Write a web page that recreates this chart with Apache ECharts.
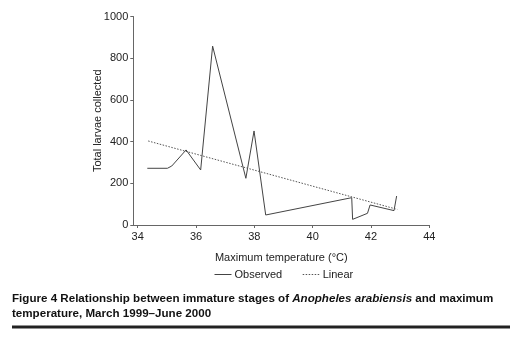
<!DOCTYPE html>
<html><head><meta charset="utf-8">
<script src="https://cdn.jsdelivr.net/npm/echarts@6/dist/echarts.min.js"></script>
<style>html,body{margin:0;padding:0;background:#fff}#c{width:520px;height:338px}</style>
</head><body><div id="c"></div>
<script>
// Data
const tempObserved = [34.33, 35.02, 35.17, 35.66, 36.16, 36.57, 37.71, 37.99, 38.39, 41.34, 41.37, 41.88, 41.97, 42.79, 42.88];
const larvaeObserved = [272, 272, 283, 360, 264, 858, 224, 451, 48, 131, 27, 56, 96, 69, 139];
const tempLinear = [34.36, 42.9];
const larvaeLinear = [403, 75];
const xTickValues = [34, 36, 38, 40, 42, 44];
const yTickValues = [0, 200, 400, 600, 800, 1000];
const seriesNames = ['Observed', 'Linear'];
const xTitle = 'Maximum temperature (°C)';
const yTitle = 'Total larvae collected';

const font = 'Liberation Sans, Arial, sans-serif';
const chart = echarts.init(document.getElementById('c'), null, {renderer: 'canvas'});
chart.setOption({
  animation: false,
  backgroundColor: '#fff',
  textStyle: {fontFamily: font},
  grid: {left: 133.3, right: 90.7, top: 16.5, bottom: 113, containLabel: false},
  legend: {
    data: seriesNames, top: 264, left: 209, itemWidth: 17, itemHeight: 8, itemGap: 20,
    itemStyle: {opacity: 0},
    lineStyle: {width: 1},
    textStyle: {fontFamily: font, fontSize: 11, color: '#222', padding: [0, 0, 0, -2]}
  },
  xAxis: {
    type: 'value', min: 33.85, max: 44,
    name: xTitle, nameLocation: 'middle', nameGap: 27, nameMoveOverlap: false,
    nameTextStyle: {fontFamily: font, fontSize: 11, color: '#222'},
    axisLine: {show: true, lineStyle: {color: '#666', width: 1}},
    axisTick: {show: true, length: 3, customValues: xTickValues, lineStyle: {color: '#666'}},
    axisLabel: {customValues: xTickValues, fontFamily: font, fontSize: 11, color: '#222', margin: 6},
    splitLine: {show: false}
  },
  yAxis: {
    type: 'value', min: 0, max: 1000, interval: 200,
    name: yTitle, nameLocation: 'middle', nameGap: 30, nameMoveOverlap: false,
    nameTextStyle: {fontFamily: font, fontSize: 11, color: '#222'},
    axisLine: {show: true, lineStyle: {color: '#666', width: 1}},
    axisTick: {show: true, length: 3, lineStyle: {color: '#666'}},
    axisLabel: {fontFamily: font, fontSize: 11, color: '#222', margin: 5,
      formatter: v => yTickValues.includes(v) ? String(v) : ''},
    splitLine: {show: false}
  },
  series: [
    {name: seriesNames[0], type: 'line', symbol: 'none', smooth: false,
     data: tempObserved.map((x, i) => [x, larvaeObserved[i]]),
     lineStyle: {color: '#444', width: 1}, itemStyle: {color: '#444'}},
    {name: seriesNames[1], type: 'line', symbol: 'none',
     data: tempLinear.map((x, i) => [x, larvaeLinear[i]]),
     lineStyle: {color: '#555', width: 1, type: [1.5, 1.5]}, itemStyle: {color: '#555'}}
  ],
  graphic: [
    {type: 'text', left: 12, top: 293, style: {
      text: '{b|Figure 4 Relationship between immature stages of }{i|Anopheles arabiensis}{b| and maximum}\n{b|temperature, March 1999–June 2000}',
      rich: {
        b: {fontFamily: font, fontSize: 11.6, fontWeight: 'bold', fill: '#111', lineHeight: 15},
        i: {fontFamily: font, fontSize: 11.6, fontWeight: 'bold', fontStyle: 'italic', fill: '#111', lineHeight: 15}
      }
    }},
    {type: 'rect', shape: {x: 12, y: 325.5, width: 498, height: 3}, style: {fill: '#222'}}
  ]
});
</script></body></html>
